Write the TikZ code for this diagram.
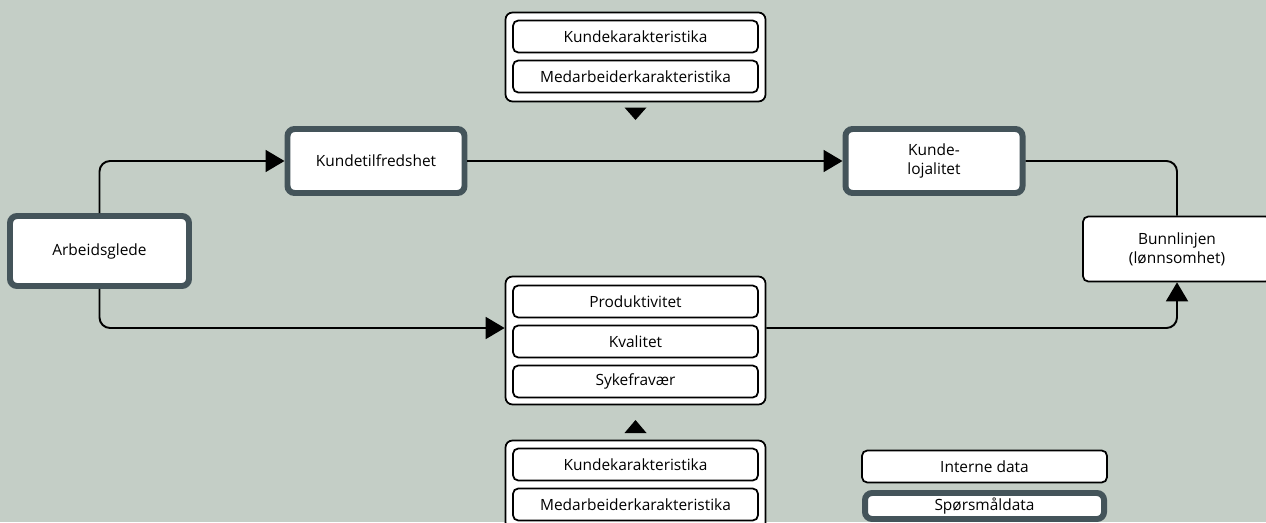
\documentclass[tikz,border=0pt]{standalone}
\usepackage{fontspec}
\setmainfont{Open Sans}
\usetikzlibrary{arrows.meta}

\definecolor{bgcol}{HTML}{C4CEC6}
\definecolor{framecol}{HTML}{44545A}

\tikzset{
	databox/.style={draw=black, fill=white, line width=1pt, rounded corners=3pt, minimum width=4.9cm, minimum height=0.64cm, inner sep=0pt, font=\fontsize{8.8}{10}\selectfont},
	groupbox/.style={draw=black, fill=white, line width=1pt, rounded corners=4pt, minimum width=5.2cm, inner sep=0pt},
	surveybox/.style={draw=framecol, fill=white, line width=3.4pt, rounded corners=4pt, align=center, inner sep=0pt, font=\fontsize{8.8}{10.8}\selectfont},
	plainbox/.style={draw=black, fill=white, line width=1pt, rounded corners=3pt, align=center, inner sep=0pt, font=\fontsize{8.8}{10.8}\selectfont},
	conn/.style={line width=1.1pt, rounded corners=6pt, -{Triangle[length=0.38cm, width=0.44cm]}},
	link/.style={line width=1.1pt, rounded corners=6pt}
}

\begin{document}
\begin{tikzpicture}
					\fill[bgcol] (0,0) rectangle (25.32,10.44);
					\useasboundingbox (0,0) rectangle (25.32,10.44);
					
					% upper group
					\node[groupbox, minimum height=1.78cm] (topgrp) at (12.71,9.3) {};
					\node[databox] (topkunde) at (12.71,9.71) {Kundekarakteristika};
					\node[databox] (topmedarb) at (12.71,8.91) {Medarbeiderkarakteristika};
					\coordinate (tridown) at (12.71,8.04);
					\fill (tridown) -- ++(-0.22,0.25) -- ++(0.44,0) -- cycle;
					
					% main boxes
					\node[surveybox, minimum width=3.54cm, minimum height=1.28cm] (tilfreds) at (7.52,7.22) {Kundetilfredshet};
					\node[surveybox, minimum width=3.54cm, minimum height=1.28cm] (lojal) at (18.68,7.22) {Kunde-\\lojalitet};
					\node[surveybox, minimum width=3.58cm, minimum height=1.4cm] (glede) at (1.99,5.42) {Arbeidsglede};
					\node[plainbox, minimum width=3.76cm, minimum height=1.3cm] (bunn) at (23.54,5.46) {Bunnlinjen\\(lønnsomhet)};
					
					% middle group
					\node[groupbox, minimum height=2.56cm] (midgrp) at (12.71,3.63) {};
					\node[databox] (prod) at (12.71,4.41) {Produktivitet};
					\node[databox] (kval) at (12.71,3.61) {Kvalitet};
					\node[databox] (syke) at (12.71,2.81) {Sykefravær};
					\coordinate (triup) at (12.71,2.04);
					\fill (triup) -- ++(-0.22,-0.26) -- ++(0.44,0) -- cycle;
					
					% lower group
					\node[groupbox, minimum height=1.78cm] (lowgrp) at (12.71,0.74) {};
					\node[databox] (lowkunde) at (12.71,1.15) {Kundekarakteristika};
					\node[databox] (lowmedarb) at (12.71,0.35) {Medarbeiderkarakteristika};
					
					% connectors
					\draw[conn] (glede.north) |- (tilfreds.west);
					\draw[conn] (tilfreds.east) -- (lojal.west);
					\draw[link] (lojal.east) -| (bunn.north);
					\draw[conn] (glede.south) |- ([yshift=2.5mm]midgrp.west);
					\draw[conn] ([yshift=2.5mm]midgrp.east) -| (bunn.south);
					
					% legend
					\node[plainbox, minimum width=4.9cm, minimum height=0.64cm] (intern) at (19.69,1.11) {Interne data};
					\node[surveybox, minimum width=4.78cm, minimum height=0.52cm] (sporsmal) at (19.69,0.32) {Spørsmåldata};
\end{tikzpicture}
\end{document}
